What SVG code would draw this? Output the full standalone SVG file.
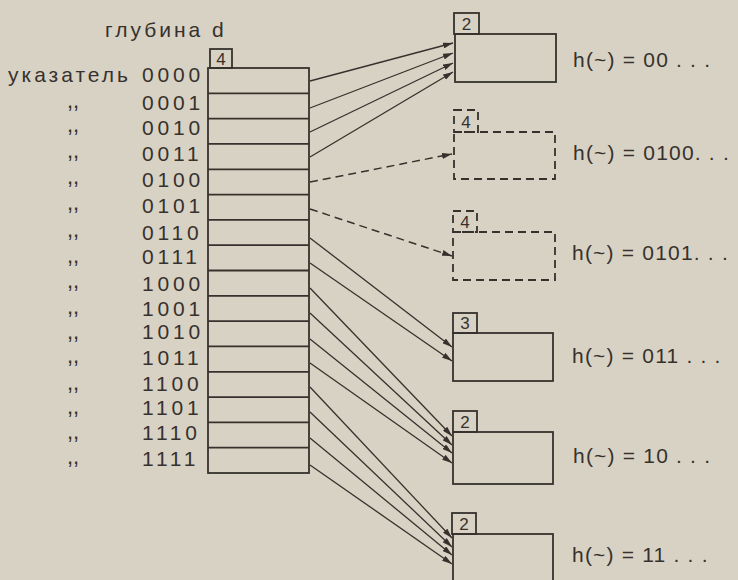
<svg xmlns="http://www.w3.org/2000/svg" width="738" height="580" viewBox="0 0 738 580">
  <style>
    .ink { fill: none; stroke: #36312d; stroke-width: 1.8; }
    .dash { fill: none; stroke: #36312d; stroke-width: 1.8; stroke-dasharray: 8 5; }
    .arr { fill: none; stroke: #36312d; stroke-width: 1.3; marker-end: url(#ah); }
    .arrd { fill: none; stroke: #36312d; stroke-width: 1.5; stroke-dasharray: 8 5; marker-end: url(#ah); }
    .t { font-family: "Liberation Sans", Arial, sans-serif; fill: #36312d; }
    .lbl { font-size: 21px; letter-spacing: 3px; }
    .code { font-size: 21px; letter-spacing: 3.8px; }
    .dit { font-size: 22px; }
    .num { font-size: 17px; text-anchor: middle; }
    .h { font-size: 21px; letter-spacing: 1.2px; }
  </style>
  <defs>
    <marker id="ah" markerUnits="userSpaceOnUse" markerWidth="10" markerHeight="6" refX="10" refY="3" orient="auto">
      <path d="M0,0 L10,3 L0,6 z" fill="#36312d"/>
    </marker>
  </defs>
  <rect x="0" y="0" width="738" height="580" fill="#d8d2c4"/>

  <text class="t lbl" x="105" y="37">глубина d</text>

  <g id="directory">
    <rect class="ink" x="210" y="49" width="22" height="19"/>
    <text class="t num" x="221" y="65">4</text>
    <rect class="ink" x="208" y="68" width="101" height="405"/>
    <path class="ink" d="M208,93.3H309M208,118.6H309M208,143.9H309M208,169.3H309M208,194.6H309M208,219.9H309M208,245.2H309M208,270.5H309M208,295.8H309M208,321.1H309M208,346.4H309M208,371.8H309M208,397.1H309M208,422.4H309M208,447.7H309"/>
    <text class="t lbl" x="8" y="82">указатель</text>
    <g class="t code">
      <text x="142" y="82">0000</text>
      <text x="142" y="110">0001</text>
      <text x="142" y="135">0010</text>
      <text x="142" y="161">0011</text>
      <text x="142" y="187">0100</text>
      <text x="142" y="213">0101</text>
      <text x="142" y="240">0110</text>
      <text x="142" y="264">0111</text>
      <text x="142" y="291">1000</text>
      <text x="142" y="316">1001</text>
      <text x="142" y="339">1010</text>
      <text x="142" y="365">1011</text>
      <text x="142" y="391">1100</text>
      <text x="142" y="415">1101</text>
      <text x="142" y="440">1110</text>
      <text x="142" y="466">1111</text>
    </g>
    <g class="t dit">
      <text x="67" y="108">,,</text>
      <text x="67" y="132">,,</text>
      <text x="67" y="158">,,</text>
      <text x="67" y="184">,,</text>
      <text x="67" y="210">,,</text>
      <text x="67" y="237">,,</text>
      <text x="67" y="263">,,</text>
      <text x="67" y="288">,,</text>
      <text x="67" y="314">,,</text>
      <text x="67" y="339">,,</text>
      <text x="67" y="363">,,</text>
      <text x="67" y="390">,,</text>
      <text x="67" y="414">,,</text>
      <text x="67" y="439">,,</text>
      <text x="67" y="464">,,</text>
    </g>
  </g>

  <g id="bucket1">
    <rect class="ink" x="454" y="13" width="25" height="21"/>
    <text class="t num" x="466.5" y="30">2</text>
    <rect class="ink" x="455" y="34" width="101" height="48"/>
    <text class="t h" x="573" y="67">h(~) = 00 . . .</text>
  </g>
  <g id="bucket2">
    <rect class="dash" x="454" y="110" width="24" height="22"/>
    <text class="t num" x="466" y="128">4</text>
    <rect class="dash" x="454" y="132" width="101" height="47"/>
    <text class="t h" x="573" y="160">h(~) = 0100. . .</text>
  </g>
  <g id="bucket3">
    <rect class="dash" x="453" y="211" width="24" height="21"/>
    <text class="t num" x="465" y="228">4</text>
    <rect class="dash" x="453" y="232" width="102" height="48"/>
    <text class="t h" x="572" y="260">h(~) = 0101. . .</text>
  </g>
  <g id="bucket4">
    <rect class="ink" x="453" y="313" width="24" height="20"/>
    <text class="t num" x="465" y="329">3</text>
    <rect class="ink" x="453" y="333" width="100" height="48"/>
    <text class="t h" x="572" y="363">h(~) = 011 . . .</text>
  </g>
  <g id="bucket5">
    <rect class="ink" x="453" y="411" width="24" height="21"/>
    <text class="t num" x="465" y="428">2</text>
    <rect class="ink" x="453" y="432" width="100" height="52"/>
    <text class="t h" x="573" y="463">h(~) = 10 . . .</text>
  </g>
  <g id="bucket6">
    <rect class="ink" x="452" y="513" width="24" height="21"/>
    <text class="t num" x="464" y="530">2</text>
    <rect class="ink" x="453" y="534" width="100" height="60"/>
    <text class="t h" x="572" y="562">h(~) = 11 . . .</text>
  </g>

  <g id="connectors">
    <line class="arr" x1="310" y1="81" x2="453" y2="43"/>
    <line class="arr" x1="310" y1="108" x2="453" y2="53"/>
    <line class="arr" x1="310" y1="132" x2="453" y2="63"/>
    <line class="arr" x1="310" y1="157" x2="453" y2="72"/>
    <line class="arrd" x1="310" y1="182" x2="452" y2="154"/>
    <line class="arrd" x1="310" y1="209" x2="452" y2="256"/>
    <line class="arr" x1="310" y1="238" x2="452" y2="347"/>
    <line class="arr" x1="310" y1="263" x2="452" y2="361"/>
    <line class="arr" x1="310" y1="288" x2="452" y2="436"/>
    <line class="arr" x1="310" y1="313" x2="452" y2="445"/>
    <line class="arr" x1="310" y1="339" x2="452" y2="453"/>
    <line class="arr" x1="310" y1="363" x2="452" y2="463"/>
    <line class="arr" x1="310" y1="387" x2="452" y2="538"/>
    <line class="arr" x1="310" y1="412" x2="452" y2="547"/>
    <line class="arr" x1="310" y1="438" x2="452" y2="555"/>
    <line class="arr" x1="310" y1="465" x2="452" y2="564"/>
  </g>
</svg>
